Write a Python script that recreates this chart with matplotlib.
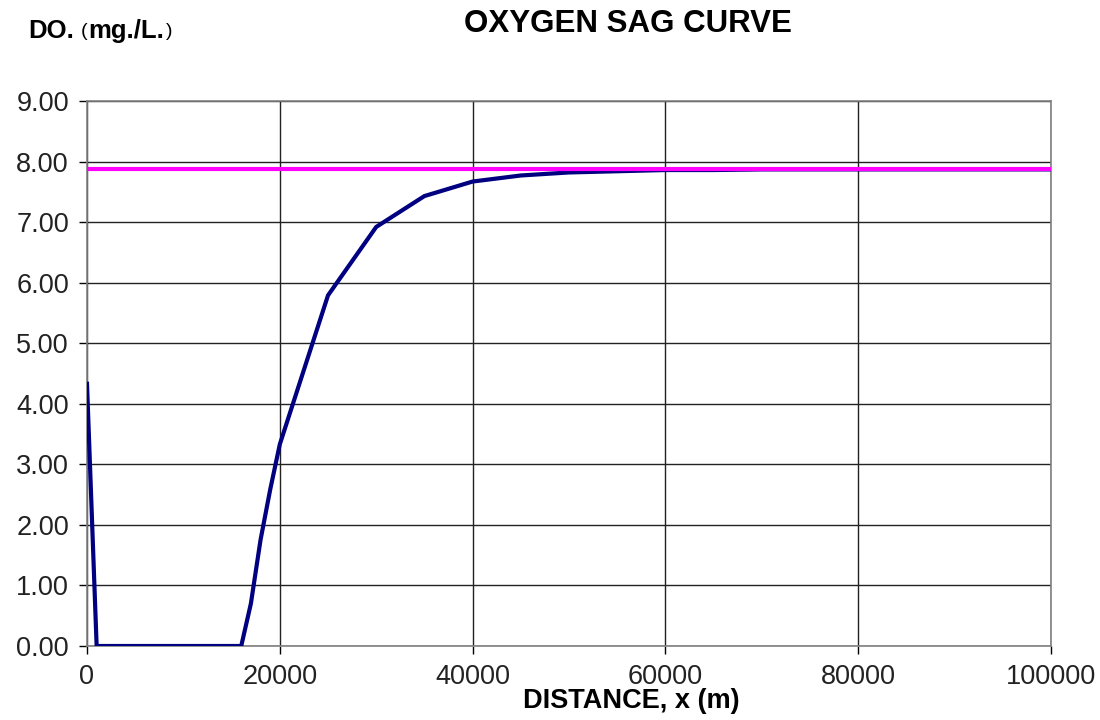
import matplotlib
matplotlib.use("Agg")
import matplotlib.pyplot as plt

# Data
distance = [0, 1000, 16000, 17000, 18000, 19000, 20000, 25000, 30000, 35000,
            40000, 45000, 50000, 55000, 60000, 65000, 70000, 75000, 80000,
            85000, 90000, 95000, 100000]
do_values = [4.33, 0.00, 0.00, 0.70, 1.75, 2.58, 3.33, 5.79, 6.92, 7.43,
             7.67, 7.77, 7.82, 7.84, 7.86, 7.86, 7.87, 7.87, 7.87,
             7.87, 7.87, 7.87, 7.87]
saturation_x = [0, 100000]
saturation_do = [7.87, 7.87]

x_ticks = [0, 20000, 40000, 60000, 80000, 100000]
y_ticks = [0, 1, 2, 3, 4, 5, 6, 7, 8, 9]
y_tick_labels = ["0.00", "1.00", "2.00", "3.00", "4.00", "5.00", "6.00",
                 "7.00", "8.00", "9.00"]

plt.rcParams['font.family'] = ['Liberation Sans', 'DejaVu Sans']

fig = plt.figure(figsize=(11, 7.2), dpi=100)
ax = fig.add_axes([87/1100, 74/720, 964/1100, 545/720])

ax.plot(distance, do_values, color='#000080', lw=3.0, zorder=3,
        solid_joinstyle='miter')
ax.plot(saturation_x, saturation_do, color='#FF00FF', lw=3.0,
        solid_capstyle='butt', zorder=4, clip_on=False)

ax.set_xlim(0, 100000)
ax.set_ylim(0, 9)
ax.set_xticks(x_ticks)
ax.set_xticklabels([str(v) for v in x_ticks])
ax.set_yticks(y_ticks)
ax.set_yticklabels(y_tick_labels)
ax.grid(True, color='#222222', lw=1.0)
ax.set_axisbelow(True)
for s in ax.spines.values():
    s.set_color('#808080')
    s.set_linewidth(1.2)
ax.tick_params(axis='both', direction='out', length=6, width=1.0,
               colors='#000000', labelsize=19.5, labelcolor='#222222', pad=7)

fig.text(628/1100, 1 - 24/720, 'OXYGEN SAG CURVE', ha='center', va='center',
         fontsize=22.5, fontweight='bold')
fig.text(28/1100, 1 - 31/720, 'DO.', ha='left', va='center', fontsize=18.5,
         fontweight='bold')
fig.text(81/1100, 1 - 32/720, '(', ha='left', va='center', fontsize=14)
fig.text(88/1100, 1 - 31/720, 'mg./L.', ha='left', va='center', fontsize=18.5,
         fontweight='bold')
fig.text(166/1100, 1 - 32/720, ')', ha='left', va='center', fontsize=14)
fig.text(631/1100, 1 - 701/720, 'DISTANCE, x (m)', ha='center', va='center',
         fontsize=19.5, fontweight='bold')

fig.savefig('out.png', dpi=100, facecolor='white')
